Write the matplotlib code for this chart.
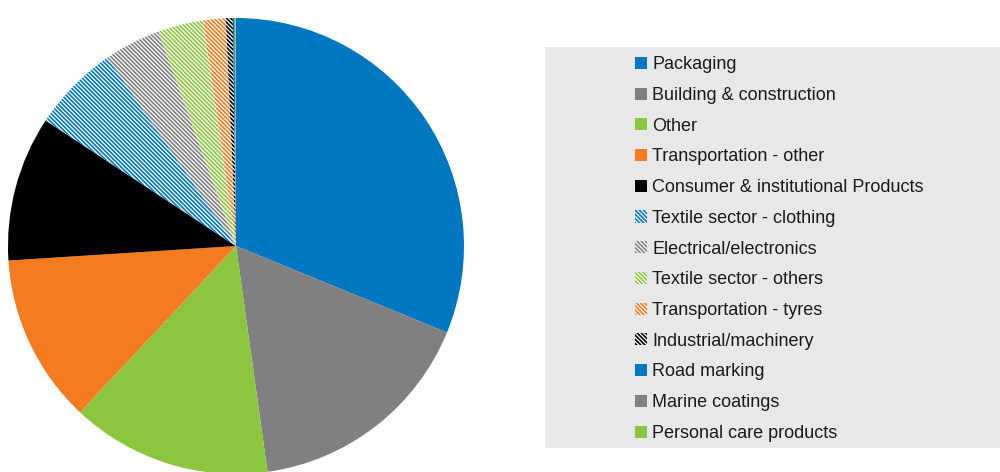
import matplotlib
matplotlib.use("Agg")
import matplotlib.pyplot as plt
from matplotlib.patches import Rectangle

# share of each sector, in percent
sectors = ["Packaging", "Building & construction", "Other", "Transportation - other",
           "Consumer & institutional Products", "Textile sector - clothing",
           "Electrical/electronics", "Textile sector - others", "Transportation - tyres",
           "Industrial/machinery", "Road marking", "Marine coatings", "Personal care products"]
shares = [31.2, 16.6, 14.2, 12.0, 10.3, 6.2, 4.0, 3.2, 1.6, 0.5, 0.12, 0.05, 0.05]

BLUE = "#0077C0"
GREY = "#808080"
GREEN = "#8CC63F"
ORANGE = "#F47B20"
BLACK = "#000000"
colors = [BLUE, GREY, GREEN, ORANGE, BLACK, BLUE, GREY, GREEN, ORANGE, BLACK, BLUE, GREY, GREEN]
hatched = [False] * 5 + [True] * 5 + [False] * 3

plt.rcParams["hatch.linewidth"] = 1.2
plt.rcParams["font.family"] = ["Liberation Sans", "DejaVu Sans"]

fig = plt.figure(figsize=(10, 4.72), dpi=100)

# pie centre about (236, 246) px, radius 228 px
ax = fig.add_axes([(236 - 228) / 1000, (472 - 246 - 228) / 472, 456 / 1000, 456 / 472])
wedges, _ = ax.pie(shares, colors=colors, startangle=90, counterclock=False,
                   wedgeprops=dict(linewidth=0))
for w, c, h in zip(wedges, colors, hatched):
    if h:
        w.set_facecolor("white")
        w.set_edgecolor(c)
        w.set_hatch("\\" * 8)
        w.set_linewidth(0)
ax.set_xlim(-1, 1)
ax.set_ylim(-1, 1)
ax.set_aspect("equal")
ax.axis("off")

# grey legend panel
fig.patches.append(Rectangle((545 / 1000, 1 - 448 / 472), 460 / 1000, 401 / 472,
                             transform=fig.transFigure, facecolor="#E8E8E8",
                             edgecolor="none", zorder=0))

leg = fig.legend(wedges, sectors, loc="upper left",
                 bbox_to_anchor=(628 / 1000, 1 - 49 / 472), frameon=False,
                 fontsize=13, handlelength=0.65, handleheight=0.65,
                 handletextpad=0.3, labelspacing=0.76, borderaxespad=0)
for t in leg.get_texts():
    t.set_color("#1a1a1a")

fig.savefig("out.png", dpi=100)
